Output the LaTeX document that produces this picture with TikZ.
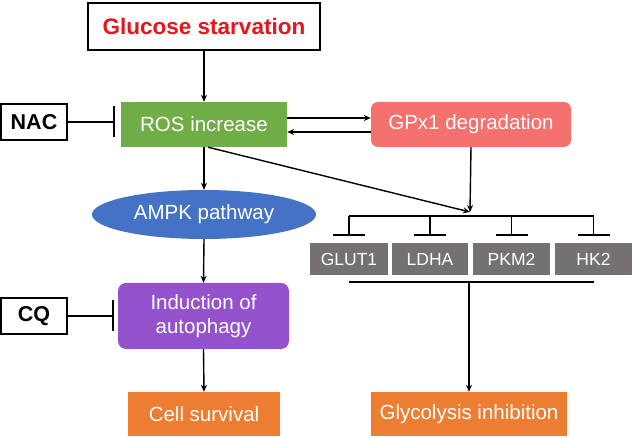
\documentclass[tikz,border=0pt]{standalone}
\usepackage{fontspec}
\setmainfont{Liberation Sans}
\usetikzlibrary{arrows.meta,shapes.geometric,calc}
\definecolor{rosgreen}{HTML}{70AD47}
\definecolor{gpxred}{HTML}{F4716E}
\definecolor{ampkblue}{HTML}{4472C4}
\definecolor{autopurple}{HTML}{9452CC}
\definecolor{genegray}{HTML}{767171}
\definecolor{outorange}{HTML}{ED7D31}
\definecolor{glured}{HTML}{E8141B}
\tikzset{
  box/.style={rectangle, inner sep=0pt, text=white, font=\fontsize{20.5}{24}\selectfont, align=center},
  drugbox/.style={rectangle, draw=black, line width=1.3pt, fill=white, minimum width=66pt, minimum height=36pt, inner sep=0pt, font=\fontsize{21.5}{24}\selectfont\bfseries},
  genebox/.style={rectangle, fill=genegray, text=white, minimum height=32pt, inner sep=0pt, font=\fontsize{17.5}{20}\selectfont},
  arr/.style={line width=1.4pt, -{Stealth[length=7pt,width=6pt]}},
  inh/.style={line width=1.3pt, -{Bar[width=31pt,line width=1.6pt]}},
  geneinh/.style={line width=1.4pt, -{Bar[width=32pt,line width=1.9pt]}},
  ln/.style={line width=1.5pt}
}
\begin{document}
\begin{tikzpicture}[x=1pt,y=-1pt]
\useasboundingbox (0,0) rectangle (633,438);
\node[rectangle, draw=black, line width=2.5pt, minimum width=232pt, minimum height=47pt, inner sep=0pt, text=glured, font=\fontsize{22.5}{26}\selectfont\bfseries] (glu) at (204,26.5) {Glucose starvation};
\node[box, fill=rosgreen, minimum width=166pt, minimum height=45pt] (ros) at (204,124.5) {ROS increase};
\node[drugbox] (nac) at (34,122) {NAC};
\node[box, fill=gpxred, rounded corners=7pt, minimum width=200pt, minimum height=45pt] (gpx) at (471,124.5) {GPx1 degradation};
\node[ellipse, fill=ampkblue, text=white, minimum width=224pt, minimum height=49pt, inner sep=0pt, font=\fontsize{20.5}{24}\selectfont] (ampk) at (204,214.5) {AMPK pathway};
\node[box, fill=autopurple, rounded corners=8pt, minimum width=171pt, minimum height=66pt] (auto) at (203.5,316) {Induction of\\autophagy};
\node[drugbox] (cq) at (34,316) {CQ};
\node[box, fill=outorange, minimum width=152pt, minimum height=44pt] (surv) at (204,414) {Cell survival};
\node[box, fill=outorange, minimum width=196pt, minimum height=44pt] (glyc) at (469,414) {Glycolysis inhibition};
\node[genebox, minimum width=78pt] (glut) at (349,259) {GLUT1};
\node[genebox, minimum width=76pt] (ldha) at (430,259) {LDHA};
\node[genebox, minimum width=77pt] (pkm) at (511.5,259) {PKM2};
\node[genebox, minimum width=77pt] (hk) at (593.5,259) {HK2};

% connectors
\draw[arr] (glu.south) -- (ros.north);
\draw[inh] (nac.east) -- ++(47,0) coordinate (nacbar);
\draw[arr] ([yshift=6.5pt]ros.east) -- ([yshift=6.5pt]ros.east -| gpx.west);
\draw[arr] ([yshift=-7.5pt]gpx.west) -- ([yshift=-7.5pt]gpx.west -| ros.east);
\draw[arr] (ros.south) -- (ampk.north);
\coordinate (branch) at (470,216);
\draw[arr] ([xshift=4pt]ros.south) -- ([yshift=4pt]branch);
\draw[arr] (gpx.south) -- ([yshift=4pt]branch);
\coordinate (bl) at (glut.north |- branch);
\coordinate (br) at (hk.north |- branch);
\draw[ln] (bl) -- (br);
\foreach \g in {glut,ldha,pkm,hk}{
  \draw[geneinh] (\g.north |- branch) -- ([yshift=7pt]\g.north);
}
\coordinate (ul) at ($(glut.south)+(0,7)$);
\coordinate (ur) at ($(hk.south)+(0,7)$);
\draw[ln] (ul) -- (ur);
\draw[arr] (glyc.north |- ul) -- (glyc.north);
\draw[arr] (ampk.south) -- (auto.north);
\draw[inh] (cq.east) -- ++(46,0) coordinate (cqbar);
\draw[arr] (auto.south) -- (surv.north);
\end{tikzpicture}
\end{document}
